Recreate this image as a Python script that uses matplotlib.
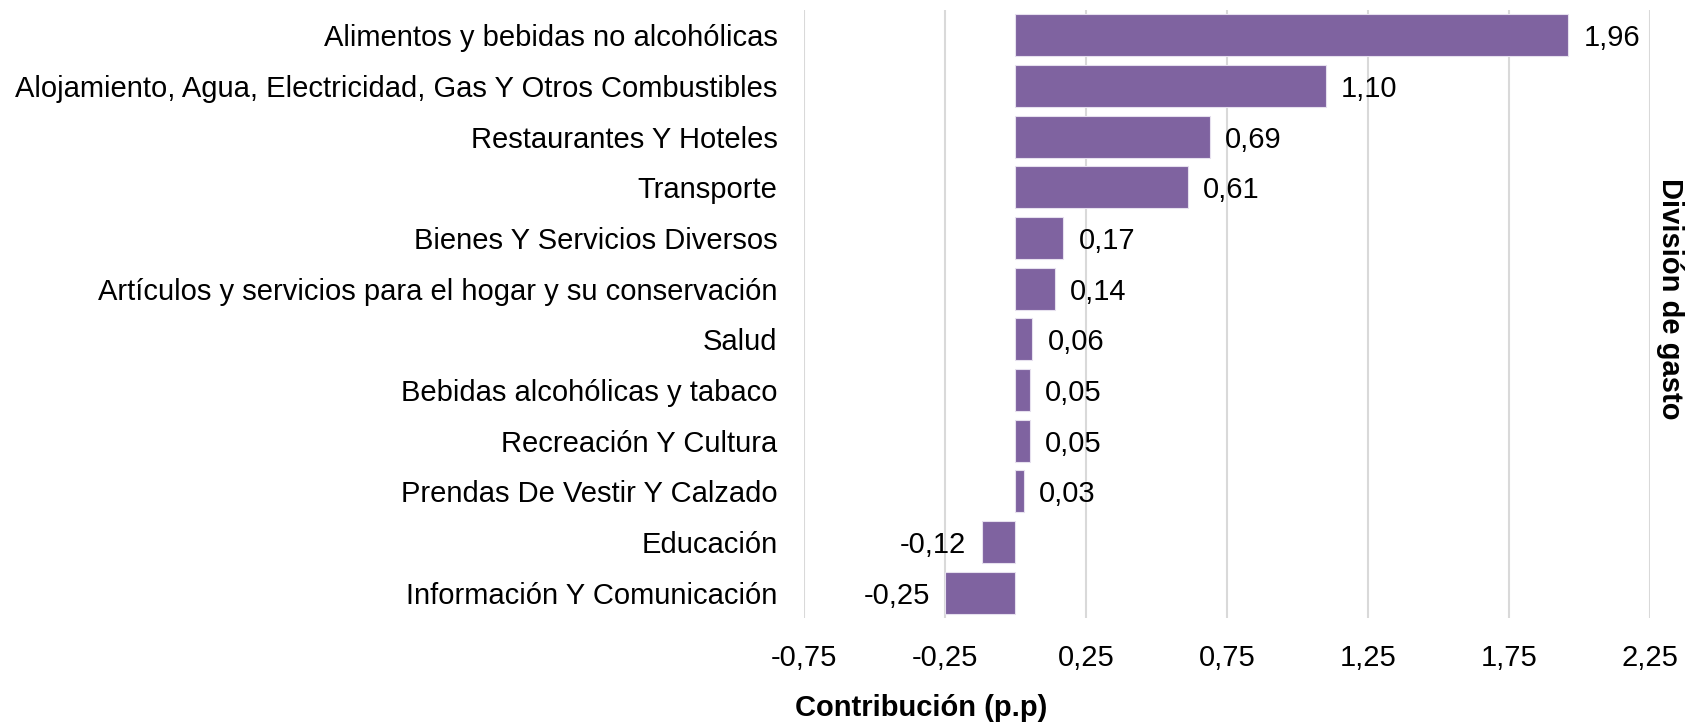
import matplotlib
matplotlib.use("Agg")
import matplotlib.pyplot as plt
import numpy as np

categories = [
    "Alimentos y bebidas no alcohólicas",
    "Alojamiento, Agua, Electricidad, Gas Y Otros Combustibles",
    "Restaurantes Y Hoteles",
    "Transporte",
    "Bienes Y Servicios Diversos",
    "Artículos y servicios para el hogar y su conservación",
    "Salud",
    "Bebidas alcohólicas y tabaco",
    "Recreación Y Cultura",
    "Prendas De Vestir Y Calzado",
    "Educación",
    "Información Y Comunicación",
]
values = [1.96, 1.10, 0.69, 0.61, 0.17, 0.14, 0.06, 0.05, 0.05, 0.03, -0.12, -0.25]
xticks = [-0.75, -0.25, 0.25, 0.75, 1.25, 1.75, 2.25]

plt.rcParams['font.family'] = ['Liberation Sans', 'DejaVu Sans']

fig = plt.figure(figsize=(16.9, 7.22), dpi=100)
ax = fig.add_axes([804/1690, 1-618/722, 846/1690, 608/722])

y = np.arange(len(categories))
bar_color = "#7F63A0"
ax.barh(y, values, height=0.83, color=bar_color, edgecolor="#e6e0ee", linewidth=0.8, zorder=3)

ax.set_xlim(-0.75, 2.25)
ax.set_ylim(len(categories) - 0.5, -0.5)
ax.set_xticks(xticks)
ax.set_xticklabels([f"{t:.2f}".replace(".", ",") for t in xticks], fontsize=21)
ax.set_yticks(y)
ax.set_yticklabels(categories, fontsize=21)
ax.tick_params(axis="both", length=0)
ax.tick_params(axis="y", pad=19)
ax.tick_params(axis="x", pad=19)
ax.grid(axis="x", color="#d9d9d9", linewidth=1.5, zorder=0)
for s in ax.spines.values():
    s.set_visible(False)

for yi, v in zip(y, values):
    label = f"{v:.2f}".replace(".", ",")
    if v >= 0:
        ax.annotate(label, (v, yi), xytext=(11, 0), textcoords="offset points",
                    ha="left", va="center_baseline", fontsize=21)
    else:
        ax.annotate(label, (v, yi), xytext=(-11, 0), textcoords="offset points",
                    ha="right", va="center_baseline", fontsize=21)

fig.text(921/1690, 1-708/722, "Contribución (p.p)", ha="center", va="center",
         fontsize=21, fontweight="bold")
fig.text(1670/1690, 1-299/722, "División de gasto", ha="center", va="center",
         rotation=270, fontsize=21, fontweight="bold")

fig.savefig("out.png", dpi=100)
